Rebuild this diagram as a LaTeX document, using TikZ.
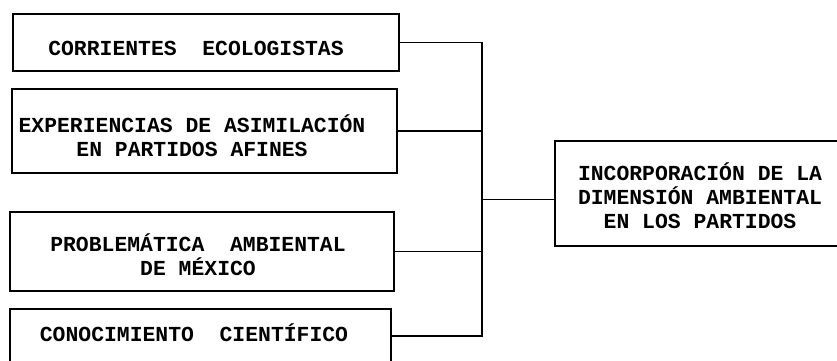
\documentclass[tikz,border=0pt]{standalone}
\usepackage{fontspec}
\newfontfamily\typefont{Liberation Mono}
\tikzset{
  box/.style={draw, line width=1.8pt, inner sep=0pt},
  boxtext/.style={align=center, inner sep=0pt,
    font=\typefont\bfseries\fontsize{21.4}{24}\selectfont},
  wire/.style={line width=1.8pt}
}

\begin{document}
\begin{tikzpicture}[x=1pt,y=-1pt]
    \useasboundingbox (0,0) rectangle (837,361);
    \clip (0,0) rectangle (837,361);
    % the four sources on the left
    \node[box, minimum width=386pt, minimum height=57pt] (c1) at (206,42.5) {};
    \node[box, minimum width=385pt, minimum height=84pt] (c2) at (204.5,131) {};
    \node[box, minimum width=384pt, minimum height=79pt] (c3) at (202,251.5) {};
    \node[box, minimum width=381pt, minimum height=54pt] (c4) at (200.5,336) {};
    \node[boxtext] (c1t) at (196,48) {CORRIENTES\ \ ECOLOGISTAS};
    \node[boxtext] (c2t) at (192,136) {EXPERIENCIAS DE ASIMILACIÓN\\EN PARTIDOS AFINES};
    \node[boxtext] (c3t) at (198,255) {PROBLEMÁTICA\ \ AMBIENTAL\\DE MÉXICO};
    \node[boxtext] (c4t) at (194,333) {CONOCIMIENTO\ \ CIENTÍFICO};
    % the result on the right
    \node[box, minimum width=288pt, minimum height=105pt] (res) at (699,193.5) {};
    \node[boxtext] (rest) at (700,196) {INCORPORACIÓN DE LA\\DIMENSIÓN AMBIENTAL\\EN LOS PARTIDOS};
    % bus
    \coordinate (bus) at (482,0);
    \draw[wire] (c1.east) -- (c1.east -| bus) -- (c4.east -| bus) -- (c4.east);
    \draw[wire] (c2.east) -- (c2.east -| bus);
    \draw[wire] (c3.east) -- (c3.east -| bus);
    \draw[wire] ([yshift=-6pt]res.west) -- ([yshift=-6pt]res.west -| bus);
  \end{tikzpicture}
\end{document}
